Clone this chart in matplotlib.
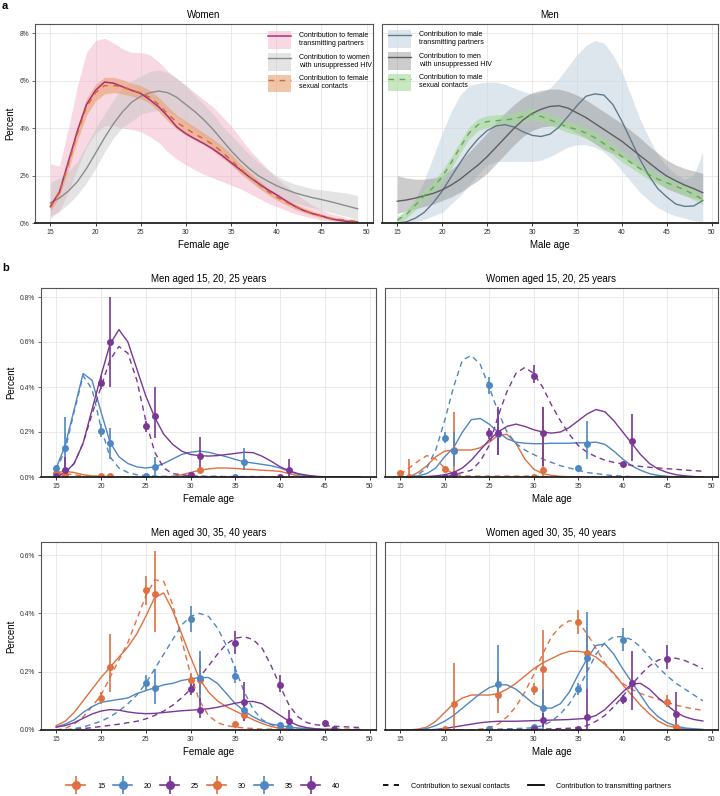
import numpy as np
import matplotlib
matplotlib.use("Agg")
import matplotlib.pyplot as plt
from matplotlib.lines import Line2D
from matplotlib.patches import Patch
from matplotlib.legend_handler import HandlerTuple
from matplotlib.ticker import FuncFormatter

plt.rcParams['font.family'] = ['Liberation Sans', 'DejaVu Sans']

ages = list(range(15, 50))

# ---------------- panel a : women ----------------
w_trans = [0.70, 1.30, 2.60, 3.90, 5.00, 5.60, 5.95, 5.90, 5.75, 5.60, 5.47, 5.20, 4.90, 4.50, 4.05, 3.77, 3.55, 3.35, 3.12, 2.85, 2.55, 2.25, 1.95, 1.68, 1.42, 1.20, 0.95, 0.72, 0.53, 0.40, 0.30, 0.18, 0.11, 0.06, 0.04]
w_trans_lo = [0.20, 0.50, 1.30, 2.30, 3.20, 3.80, 4.10, 4.10, 4.00, 3.95, 3.85, 3.65, 3.40, 3.00, 2.70, 2.45, 2.25, 2.05, 1.90, 1.75, 1.60, 1.45, 1.25, 1.05, 0.85, 0.70, 0.55, 0.40, 0.30, 0.20, 0.12, 0.08, 0.05, 0.03, 0.02]
w_trans_hi = [2.50, 2.40, 4.00, 5.80, 7.20, 7.70, 7.80, 7.60, 7.35, 7.20, 7.20, 7.10, 6.80, 6.40, 6.10, 5.80, 5.50, 5.20, 4.90, 4.50, 4.10, 3.60, 3.10, 2.70, 2.30, 1.90, 1.60, 1.30, 1.00, 0.75, 0.55, 0.40, 0.30, 0.20, 0.15]
w_unsup = [0.85, 1.05, 1.35, 1.75, 2.30, 2.95, 3.60, 4.20, 4.70, 5.10, 5.35, 5.50, 5.57, 5.50, 5.30, 5.00, 4.70, 4.35, 3.95, 3.50, 3.05, 2.65, 2.30, 2.00, 1.78, 1.58, 1.42, 1.28, 1.17, 1.07, 0.99, 0.90, 0.80, 0.70, 0.60]
w_unsup_lo = [0.30, 0.50, 0.80, 1.20, 1.70, 2.30, 3.00, 3.60, 4.05, 4.30, 4.60, 4.70, 4.75, 4.70, 4.50, 4.20, 3.90, 3.60, 3.20, 2.80, 2.45, 2.10, 1.80, 1.50, 1.30, 1.10, 0.95, 0.85, 0.75, 0.65, 0.55, 0.45, 0.35, 0.25, 0.15]
w_unsup_hi = [1.70, 1.90, 2.20, 2.60, 3.30, 4.00, 4.60, 5.20, 5.70, 6.00, 6.20, 6.40, 6.45, 6.35, 6.10, 5.80, 5.40, 5.00, 4.60, 4.10, 3.70, 3.30, 2.90, 2.55, 2.25, 2.00, 1.80, 1.65, 1.55, 1.45, 1.40, 1.35, 1.30, 1.25, 1.15]
w_sex = [0.65, 1.30, 2.50, 3.80, 4.90, 5.50, 5.80, 5.80, 5.75, 5.60, 5.50, 5.30, 5.00, 4.60, 4.25, 4.00, 3.75, 3.55, 3.30, 3.00, 2.65, 2.30, 1.95, 1.65, 1.35, 1.10, 0.90, 0.70, 0.55, 0.40, 0.30, 0.20, 0.15, 0.10, 0.07]
w_sex_lo = [0.50, 1.10, 2.25, 3.50, 4.55, 5.15, 5.45, 5.50, 5.45, 5.35, 5.25, 5.05, 4.70, 4.30, 3.95, 3.70, 3.50, 3.30, 3.05, 2.75, 2.45, 2.10, 1.80, 1.50, 1.22, 0.98, 0.78, 0.60, 0.45, 0.32, 0.22, 0.14, 0.09, 0.06, 0.04]
w_sex_hi = [0.85, 1.50, 2.75, 4.10, 5.25, 5.85, 6.15, 6.15, 6.05, 5.90, 5.80, 5.60, 5.30, 4.90, 4.55, 4.30, 4.05, 3.80, 3.55, 3.25, 2.90, 2.50, 2.15, 1.82, 1.50, 1.25, 1.02, 0.82, 0.65, 0.50, 0.38, 0.27, 0.20, 0.14, 0.10]

# ---------------- panel a : men ----------------
m_trans = [0.00, 0.05, 0.20, 0.45, 0.85, 1.35, 1.95, 2.55, 3.10, 3.55, 3.90, 4.10, 4.15, 4.05, 3.85, 3.70, 3.65, 3.75, 4.05, 4.50, 4.95, 5.35, 5.45, 5.40, 5.00, 4.30, 3.50, 2.70, 2.00, 1.45, 1.10, 0.80, 0.70, 0.72, 0.95]
m_trans_lo = [0.00, 0.00, 0.05, 0.15, 0.30, 0.45, 0.80, 1.15, 1.60, 2.05, 2.45, 2.60, 2.60, 2.60, 2.60, 2.60, 2.65, 2.80, 3.00, 3.20, 3.30, 3.30, 3.20, 3.00, 2.65, 2.20, 1.75, 1.30, 0.95, 0.65, 0.45, 0.30, 0.20, 0.10, 0.05]
m_trans_hi = [0.30, 0.50, 1.00, 1.80, 2.80, 3.80, 4.70, 5.40, 5.80, 5.90, 5.95, 5.95, 5.85, 5.70, 5.55, 5.45, 5.50, 5.70, 6.10, 6.60, 7.10, 7.50, 7.70, 7.60, 7.10, 6.40, 5.40, 4.40, 3.60, 2.90, 2.40, 2.05, 1.85, 2.00, 3.00]
m_unsup = [0.92, 0.97, 1.05, 1.15, 1.25, 1.40, 1.60, 1.85, 2.15, 2.45, 2.80, 3.20, 3.60, 4.00, 4.35, 4.62, 4.80, 4.92, 4.95, 4.85, 4.65, 4.45, 4.20, 3.95, 3.70, 3.45, 3.15, 2.85, 2.55, 2.25, 1.98, 1.78, 1.60, 1.45, 1.28]
m_unsup_lo = [0.40, 0.50, 0.60, 0.70, 0.80, 0.95, 1.10, 1.30, 1.55, 1.80, 2.10, 2.50, 2.90, 3.30, 3.65, 3.90, 4.05, 4.10, 4.10, 4.00, 3.80, 3.60, 3.35, 3.10, 2.95, 2.80, 2.55, 2.30, 2.00, 1.70, 1.45, 1.30, 1.15, 1.05, 0.95]
m_unsup_hi = [2.00, 1.90, 1.85, 1.85, 1.90, 2.00, 2.25, 2.60, 3.00, 3.40, 3.80, 4.25, 4.65, 5.00, 5.30, 5.50, 5.60, 5.65, 5.65, 5.55, 5.40, 5.20, 4.95, 4.70, 4.45, 4.20, 3.90, 3.60, 3.25, 2.95, 2.65, 2.45, 2.30, 2.20, 2.10]
m_sex = [0.12, 0.35, 0.75, 1.15, 1.50, 1.95, 2.55, 3.20, 3.80, 4.15, 4.28, 4.32, 4.35, 4.40, 4.50, 4.58, 4.50, 4.35, 4.20, 4.05, 3.95, 3.80, 3.60, 3.35, 3.10, 2.80, 2.55, 2.30, 2.05, 1.85, 1.70, 1.55, 1.40, 1.20, 1.00]
m_sex_lo = [0.02, 0.20, 0.55, 0.92, 1.25, 1.70, 2.30, 2.95, 3.55, 3.90, 4.03, 4.08, 4.12, 4.17, 4.27, 4.34, 4.27, 4.12, 3.97, 3.82, 3.72, 3.57, 3.37, 3.12, 2.88, 2.58, 2.33, 2.08, 1.84, 1.64, 1.49, 1.34, 1.18, 0.98, 0.78]
m_sex_hi = [0.25, 0.52, 0.95, 1.38, 1.75, 2.20, 2.80, 3.45, 4.05, 4.40, 4.53, 4.57, 4.60, 4.65, 4.75, 4.83, 4.75, 4.60, 4.45, 4.30, 4.20, 4.05, 3.85, 3.60, 3.35, 3.05, 2.80, 2.55, 2.28, 2.08, 1.93, 1.78, 1.63, 1.43, 1.23]

# ---------------- panel b : men aged 15, 20, 25 (female age) ----------------
mA15_solid = [0.020, 0.025, 0.020, 0.010, 0.005, 0.003, 0.002, 0.001, 0.001, 0.001, 0.001, 0.001, 0.001, 0.002, 0.010, 0.020, 0.030, 0.036, 0.040, 0.040, 0.038, 0.035, 0.033, 0.030, 0.028, 0.025, 0.015, 0.005, 0.001, 0, 0, 0, 0, 0, 0]
mA15_dash = [0.020, 0.015, 0.010, 0.005, 0.003, 0.002, 0.001, 0, 0, 0, 0, 0, 0, 0, 0, 0, 0, 0, 0, 0, 0, 0, 0, 0, 0, 0, 0, 0, 0, 0, 0, 0, 0, 0, 0]
mA20_solid = [0.040, 0.140, 0.300, 0.460, 0.430, 0.290, 0.155, 0.090, 0.060, 0.045, 0.040, 0.045, 0.060, 0.080, 0.100, 0.110, 0.115, 0.110, 0.100, 0.090, 0.078, 0.067, 0.062, 0.056, 0.050, 0.040, 0.025, 0.012, 0.005, 0.002, 0, 0, 0, 0, 0]
mA20_dash = [0.030, 0.120, 0.290, 0.450, 0.390, 0.220, 0.090, 0.040, 0.020, 0.010, 0.006, 0.004, 0.003, 0.003, 0.003, 0.003, 0.003, 0.003, 0.003, 0.002, 0.002, 0.002, 0.002, 0.002, 0.001, 0.001, 0.001, 0, 0, 0, 0, 0, 0, 0, 0]
mA25_solid = [0.000, 0.020, 0.060, 0.150, 0.300, 0.450, 0.590, 0.655, 0.600, 0.480, 0.360, 0.265, 0.190, 0.145, 0.115, 0.100, 0.095, 0.093, 0.095, 0.100, 0.105, 0.110, 0.108, 0.092, 0.070, 0.045, 0.028, 0.015, 0.008, 0.003, 0.001, 0, 0, 0, 0]
mA25_dash = [0.000, 0.020, 0.060, 0.150, 0.280, 0.400, 0.520, 0.580, 0.550, 0.430, 0.250, 0.110, 0.040, 0.015, 0.010, 0.005, 0.003, 0.002, 0.002, 0.001, 0.001, 0.001, 0.001, 0.001, 0.001, 0.001, 0, 0, 0, 0, 0, 0, 0, 0, 0]
mA_pt_grp = [15, 15, 15, 15, 15, 15, 20, 20, 20, 20, 20, 20, 20, 20, 25, 25, 25, 25, 25, 25, 25, 25, 25, 25]
mA_pt_age = [15, 16, 20, 21, 30, 31, 15, 16, 20, 21, 25, 26, 35, 36, 15, 16, 20, 21, 25, 26, 30, 31, 40, 41]
mA_pt_val = [0.02, 0.01, 0.003, 0.003, 0.01, 0.03, 0.04, 0.13, 0.205, 0.15, 0.005, 0.045, 0.002, 0.065, 0.005, 0.03, 0.42, 0.60, 0.225, 0.27, 0.01, 0.095, 0.002, 0.03]
mA_pt_lo = [0.015, 0.0, 0.0, 0.0, 0.005, 0.02, 0.03, 0.02, 0.18, 0.08, 0.0, 0.0, 0.0, 0.03, 0.0, 0.0, 0.39, 0.40, 0.20, 0.175, 0.0, 0.02, 0.0, 0.0]
mA_pt_hi = [0.025, 0.03, 0.006, 0.006, 0.015, 0.045, 0.05, 0.265, 0.235, 0.22, 0.01, 0.09, 0.005, 0.13, 0.01, 0.09, 0.45, 0.80, 0.25, 0.40, 0.02, 0.18, 0.005, 0.08]

# ---------------- panel b : women aged 15, 20, 25 (male age) ----------------
wA15_solid = [0.000, 0.000, 0.020, 0.050, 0.090, 0.115, 0.120, 0.120, 0.120, 0.130, 0.155, 0.185, 0.190, 0.150, 0.080, 0.035, 0.015, 0.007, 0.003, 0.001, 0, 0, 0, 0, 0, 0, 0, 0, 0, 0, 0, 0, 0, 0, 0]
wA15_dash = [0.010, 0.040, 0.070, 0.095, 0.080, 0.040, 0.012, 0.006, 0.004, 0.004, 0.004, 0.004, 0.004, 0.004, 0.004, 0.004, 0.002, 0.001, 0.001, 0.001, 0, 0, 0, 0, 0, 0, 0, 0, 0, 0, 0, 0, 0, 0, 0]
wA20_solid = [0.000, 0.000, 0.005, 0.015, 0.040, 0.090, 0.130, 0.200, 0.255, 0.260, 0.235, 0.200, 0.170, 0.155, 0.150, 0.148, 0.148, 0.150, 0.150, 0.150, 0.152, 0.152, 0.155, 0.145, 0.115, 0.080, 0.050, 0.030, 0.015, 0.007, 0.003, 0.001, 0, 0, 0]
wA20_dash = [0.000, 0.000, 0.010, 0.040, 0.120, 0.250, 0.400, 0.520, 0.540, 0.500, 0.400, 0.290, 0.200, 0.150, 0.120, 0.100, 0.080, 0.065, 0.050, 0.040, 0.030, 0.020, 0.015, 0.010, 0.006, 0.004, 0.002, 0.001, 0, 0, 0, 0, 0, 0, 0]
wA25_solid = [0.000, 0.000, 0.000, 0.002, 0.005, 0.010, 0.020, 0.040, 0.075, 0.120, 0.165, 0.200, 0.225, 0.235, 0.225, 0.210, 0.200, 0.195, 0.200, 0.220, 0.250, 0.280, 0.300, 0.290, 0.250, 0.200, 0.150, 0.100, 0.060, 0.035, 0.020, 0.010, 0.005, 0.002, 0.000]
wA25_dash = [0.000, 0.000, 0.000, 0.000, 0.000, 0.003, 0.010, 0.020, 0.030, 0.070, 0.140, 0.270, 0.380, 0.460, 0.487, 0.460, 0.400, 0.320, 0.250, 0.190, 0.140, 0.110, 0.090, 0.075, 0.065, 0.058, 0.052, 0.047, 0.043, 0.040, 0.037, 0.034, 0.031, 0.028, 0.026]
wA_pt_grp = [15, 15, 15, 15, 15, 15, 20, 20, 20, 20, 20, 20, 25, 25, 25, 25, 25, 25, 25, 25]
wA_pt_age = [15, 16, 20, 21, 30, 31, 20, 21, 25, 26, 35, 36, 20, 21, 25, 26, 30, 31, 40, 41]
wA_pt_val = [0.02, 0.001, 0.035, 0.12, 0.002, 0.03, 0.175, 0.115, 0.41, 0.19, 0.04, 0.145, 0.0, 0.015, 0.195, 0.195, 0.45, 0.195, 0.06, 0.16]
wA_pt_lo = [0.015, 0.0, 0.03, 0.0, 0.0, 0.0, 0.15, 0.05, 0.37, 0.10, 0.035, 0.08, 0.0, 0.005, 0.17, 0.10, 0.42, 0.05, 0.055, 0.07]
wA_pt_hi = [0.025, 0.08, 0.04, 0.29, 0.004, 0.31, 0.20, 0.20, 0.445, 0.30, 0.045, 0.25, 0.003, 0.025, 0.22, 0.31, 0.50, 0.31, 0.065, 0.28]

# ---------------- panel b : men aged 30, 35, 40 (female age) ----------------
mB30_solid = [0.015, 0.030, 0.060, 0.100, 0.140, 0.180, 0.215, 0.250, 0.285, 0.330, 0.390, 0.455, 0.470, 0.410, 0.330, 0.250, 0.175, 0.130, 0.100, 0.080, 0.065, 0.050, 0.035, 0.022, 0.012, 0.006, 0.003, 0.001, 0.001, 0.001, 0.001, 0.001, 0.001, 0.001, 0.001]
mB30_dash = [0.000, 0.005, 0.020, 0.045, 0.080, 0.120, 0.180, 0.240, 0.300, 0.380, 0.460, 0.515, 0.510, 0.430, 0.310, 0.190, 0.100, 0.050, 0.025, 0.015, 0.010, 0.007, 0.005, 0.003, 0.003, 0.003, 0.003, 0.003, 0.003, 0.003, 0.003, 0.003, 0.003, 0.003, 0.003]
mB35_solid = [0.010, 0.020, 0.035, 0.060, 0.080, 0.095, 0.100, 0.105, 0.110, 0.125, 0.135, 0.145, 0.155, 0.160, 0.170, 0.175, 0.180, 0.180, 0.160, 0.125, 0.090, 0.065, 0.045, 0.030, 0.020, 0.015, 0.010, 0.007, 0.005, 0.003, 0.002, 0.002, 0.001, 0.001, 0.001]
mB35_dash = [0.000, 0.000, 0.005, 0.010, 0.020, 0.030, 0.045, 0.065, 0.090, 0.120, 0.160, 0.210, 0.260, 0.310, 0.360, 0.390, 0.400, 0.390, 0.350, 0.290, 0.210, 0.130, 0.070, 0.035, 0.018, 0.010, 0.006, 0.003, 0.002, 0.001, 0.001, 0.001, 0, 0, 0]
mB40_solid = [0.010, 0.015, 0.025, 0.040, 0.055, 0.065, 0.070, 0.068, 0.062, 0.058, 0.056, 0.057, 0.060, 0.063, 0.066, 0.068, 0.070, 0.073, 0.078, 0.085, 0.092, 0.097, 0.098, 0.090, 0.070, 0.050, 0.030, 0.015, 0.008, 0.004, 0.002, 0.001, 0.001, 0.001, 0.001]
mB40_dash = [0.000, 0.000, 0.002, 0.005, 0.008, 0.012, 0.016, 0.020, 0.025, 0.030, 0.038, 0.050, 0.065, 0.085, 0.110, 0.140, 0.180, 0.220, 0.260, 0.295, 0.315, 0.320, 0.310, 0.280, 0.220, 0.150, 0.085, 0.045, 0.025, 0.018, 0.015, 0.013, 0.011, 0.010, 0.008]
mB_pt_grp = [30, 30, 30, 30, 30, 30, 30, 30, 35, 35, 35, 35, 35, 35, 35, 35, 40, 40, 40, 40, 40, 40, 40, 40]
mB_pt_age = [20, 21, 25, 26, 30, 31, 35, 36, 25, 26, 30, 31, 35, 36, 40, 41, 30, 31, 35, 36, 40, 41, 45, 46]
mB_pt_val = [0.11, 0.215, 0.48, 0.465, 0.17, 0.17, 0.02, 0.05, 0.16, 0.145, 0.38, 0.18, 0.185, 0.07, 0.017, 0.012, 0.14, 0.07, 0.30, 0.095, 0.155, 0.03, 0.025, 0.003]
mB_pt_lo = [0.09, 0.13, 0.43, 0.335, 0.15, 0.12, 0.015, 0.03, 0.135, 0.09, 0.335, 0.10, 0.16, 0.05, 0.012, 0.0, 0.12, 0.04, 0.26, 0.03, 0.13, 0.0, 0.012, 0.0]
mB_pt_hi = [0.13, 0.33, 0.53, 0.615, 0.195, 0.25, 0.025, 0.07, 0.19, 0.21, 0.425, 0.27, 0.22, 0.09, 0.022, 0.03, 0.16, 0.11, 0.34, 0.165, 0.19, 0.07, 0.035, 0.006]

# ---------------- panel b : women aged 30, 35, 40 (male age) ----------------
wB30_solid = [0.000, 0.000, 0.003, 0.010, 0.030, 0.060, 0.090, 0.110, 0.120, 0.120, 0.120, 0.125, 0.140, 0.160, 0.185, 0.210, 0.230, 0.245, 0.260, 0.270, 0.270, 0.265, 0.250, 0.225, 0.195, 0.155, 0.120, 0.085, 0.055, 0.030, 0.015, 0.008, 0.004, 0.002, 0.001]
wB30_dash = [0, 0, 0, 0, 0, 0, 0, 0, 0, 0.003, 0.008, 0.020, 0.045, 0.080, 0.130, 0.190, 0.260, 0.320, 0.355, 0.375, 0.370, 0.330, 0.280, 0.230, 0.190, 0.160, 0.140, 0.125, 0.115, 0.105, 0.095, 0.085, 0.078, 0.072, 0.068]
wB35_solid = [0.000, 0.000, 0.000, 0.005, 0.015, 0.030, 0.050, 0.075, 0.100, 0.125, 0.145, 0.155, 0.155, 0.140, 0.115, 0.090, 0.075, 0.075, 0.090, 0.130, 0.190, 0.245, 0.290, 0.295, 0.260, 0.210, 0.165, 0.120, 0.075, 0.045, 0.025, 0.013, 0.007, 0.004, 0.002]
wB35_dash = [0, 0, 0, 0, 0, 0, 0, 0, 0, 0, 0.002, 0.003, 0.004, 0.005, 0.006, 0.008, 0.015, 0.030, 0.055, 0.090, 0.140, 0.200, 0.260, 0.300, 0.320, 0.320, 0.310, 0.285, 0.250, 0.215, 0.185, 0.160, 0.140, 0.120, 0.100]
wB40_solid = [0, 0, 0, 0, 0.002, 0.005, 0.010, 0.015, 0.020, 0.025, 0.028, 0.030, 0.030, 0.030, 0.031, 0.032, 0.033, 0.034, 0.035, 0.036, 0.038, 0.040, 0.050, 0.070, 0.100, 0.130, 0.158, 0.160, 0.140, 0.110, 0.085, 0.060, 0.045, 0.036, 0.031]
wB40_dash = [0, 0, 0, 0, 0, 0, 0, 0, 0, 0, 0, 0, 0, 0, 0.001, 0.002, 0.003, 0.004, 0.005, 0.006, 0.008, 0.015, 0.030, 0.050, 0.080, 0.115, 0.155, 0.190, 0.220, 0.240, 0.248, 0.246, 0.238, 0.225, 0.210]
wB_pt_grp = [30, 30, 30, 30, 30, 30, 30, 30, 30, 30, 35, 35, 35, 35, 35, 35, 35, 40, 40, 40, 40, 40, 40, 40, 40]
wB_pt_age = [20, 21, 25, 26, 30, 31, 35, 36, 45, 46, 25, 26, 30, 31, 35, 36, 40, 30, 31, 35, 36, 40, 41, 45, 46]
wB_pt_val = [0.002, 0.088, 0.005, 0.12, 0.14, 0.21, 0.37, 0.265, 0.097, 0.01, 0.005, 0.157, 0.01, 0.074, 0.14, 0.246, 0.31, 0.002, 0.034, 0.005, 0.045, 0.105, 0.16, 0.245, 0.055]
wB_pt_lo = [0.0, 0.0, 0.0, 0.057, 0.12, 0.08, 0.33, 0.20, 0.08, 0.005, 0.0, 0.10, 0.005, 0.0, 0.12, 0.14, 0.27, 0.0, 0.01, 0.0, 0.0, 0.09, 0.07, 0.21, 0.0]
wB_pt_hi = [0.004, 0.23, 0.01, 0.20, 0.16, 0.343, 0.41, 0.33, 0.12, 0.015, 0.01, 0.29, 0.015, 0.14, 0.16, 0.405, 0.35, 0.004, 0.06, 0.01, 0.14, 0.12, 0.27, 0.29, 0.13]

group_labels = ['15', '20', '25', '30', '35', '40']
group_colors = ['#E0703F', '#4E87C3', '#7A3796', '#E0703F', '#4E87C3', '#7A3796']

W, H = 720, 796
fig = plt.figure(figsize=(W / 100, H / 100), dpi=100)


def rect(l, t, r, b):
    return [l / W, 1 - b / H, (r - l) / W, (b - t) / H]


TICK_FS = 4.9
LAB_FS = 7.0


def style_axes(ax, ymax, yticks, fmt, show_y=True, xlabel=None):
    ax.set_xlim(13.3, 50.7)
    ax.set_ylim(0, ymax)
    ax.set_xticks([15, 20, 25, 30, 35, 40, 45, 50])
    ax.set_yticks(yticks)
    ax.yaxis.set_major_formatter(FuncFormatter(fmt))
    ax.grid(True, color='#E6E6E6', lw=0.6)
    ax.set_axisbelow(True)
    for s in ['left', 'top', 'right']:
        ax.spines[s].set_color('#555555')
        ax.spines[s].set_linewidth(0.8)
    ax.spines['bottom'].set_color('#222222')
    ax.spines['bottom'].set_linewidth(1.3)
    ax.tick_params(axis='x', labelsize=TICK_FS, length=2.5, width=0.7, color='#333333', pad=2, labelcolor='#333333')
    ax.tick_params(axis='y', labelsize=TICK_FS, length=2, width=0.6, color='#555555', pad=2, labelcolor='#333333')
    if not show_y:
        ax.tick_params(axis='y', labelleft=False, length=0)
    else:
        ax.set_ylabel('Percent', fontsize=LAB_FS, labelpad=3)
    if xlabel:
        ax.set_xlabel(xlabel, fontsize=LAB_FS, labelpad=3)


pct0 = lambda v, p: f'{v:.0f}%'
pct1 = lambda v, p: f'{v:.1f}%'
overlay = {tuple: HandlerTuple(ndivide=1, pad=0)}

# ---------------- panel a ----------------
axW = fig.add_axes(rect(35, 24, 373, 223))
axM = fig.add_axes(rect(382, 24, 718, 223))

pink_c, pink_f = '#AE2C7E', '#F0B3C8'
gw_c, gw_f = '#8C8C8C', '#C4C4C4'
or_c, or_f = '#D5652B', '#E9A06E'
axW.fill_between(ages, w_trans_lo, w_trans_hi, color=pink_f, alpha=0.5, lw=0)
axW.fill_between(ages, w_unsup_lo, w_unsup_hi, color=gw_f, alpha=0.45, lw=0)
axW.fill_between(ages, w_sex_lo, w_sex_hi, color=or_f, alpha=0.6, lw=0)
axW.plot(ages, w_unsup, color=gw_c, lw=1.0)
axW.plot(ages, w_trans, color=pink_c, lw=1.1)
axW.plot(ages, w_sex, color=or_c, lw=1.0, ls=(0, (4, 4)))
style_axes(axW, 8.4, [0, 2, 4, 6, 8], pct0, True, 'Female age')
axW.set_title('Women', fontsize=LAB_FS, pad=4)

leg_kw = dict(handler_map=overlay, loc='upper left', frameon=False, fontsize=5.0,
              handlelength=3.3, handleheight=3.6, labelspacing=0.55, handletextpad=1.2,
              borderpad=0, borderaxespad=0)

hW = [(Patch(facecolor=pink_f, alpha=0.5, lw=0), Line2D([], [], color=pink_c, lw=1.1)),
      (Patch(facecolor=gw_f, alpha=0.45, lw=0), Line2D([], [], color=gw_c, lw=1.0)),
      (Patch(facecolor=or_f, alpha=0.6, lw=0), Line2D([], [], color=or_c, lw=1.0, ls=(0, (4, 4))))]
lW = ['Contribution to female\ntransmitting partners',
      'Contribution to women\nwith unsuppressed HIV',
      'Contribution to female\nsexual contacts']
axW.legend(hW, lW, bbox_to_anchor=((268 - 35) / 338, (223 - 31) / 199), **leg_kw)

sl_c, sl_f = '#617A8C', '#C9D6E2'
gm_c, gm_f = '#5E5E5E', '#8E8E8E'
gr_c, gr_f = '#62AA55', '#A6D897'
axM.fill_between(ages, m_trans_lo, m_trans_hi, color=sl_f, alpha=0.6, lw=0)
axM.fill_between(ages, m_unsup_lo, m_unsup_hi, color=gm_f, alpha=0.45, lw=0)
axM.fill_between(ages, m_sex_lo, m_sex_hi, color=gr_f, alpha=0.6, lw=0)
axM.plot(ages, m_trans, color=sl_c, lw=1.0)
axM.plot(ages, m_unsup, color=gm_c, lw=1.0)
axM.plot(ages, m_sex, color=gr_c, lw=1.0, ls=(0, (4, 4)))
style_axes(axM, 8.4, [0, 2, 4, 6, 8], pct0, False, 'Male age')
axM.set_title('Men', fontsize=LAB_FS, pad=4)

hM = [(Patch(facecolor=sl_f, alpha=0.6, lw=0), Line2D([], [], color=sl_c, lw=1.0)),
      (Patch(facecolor=gm_f, alpha=0.45, lw=0), Line2D([], [], color=gm_c, lw=1.0)),
      (Patch(facecolor=gr_f, alpha=0.6, lw=0), Line2D([], [], color=gr_c, lw=1.0, ls=(0, (4, 4))))]
lM = ['Contribution to male\ntransmitting partners',
      'Contribution to men\nwith unsuppressed HIV',
      'Contribution to male\nsexual contacts']
axM.legend(hM, lM, bbox_to_anchor=((388 - 382) / 336, (223 - 30) / 199), **leg_kw)

# ---------------- panel b ----------------


def draw_b(ax, groups, solids, dashes, pg, pa, pv, plo, phi):
    for g, s, d in zip(groups, solids, dashes):
        c = group_colors[group_labels.index(str(g))]
        ax.plot(ages, d, color=c, lw=1.0, ls=(0, (4, 3)))
        ax.plot(ages, s, color=c, lw=1.0)
    pg = np.array(pg); pa = np.array(pa); pv = np.array(pv)
    plo = np.array(plo); phi = np.array(phi)
    for g in groups:
        c = group_colors[group_labels.index(str(g))]
        m = pg == g
        yerr = [np.clip(pv[m] - plo[m], 0, None), np.clip(phi[m] - pv[m], 0, None)]
        ax.errorbar(pa[m], pv[m], yerr=yerr, fmt='o', color=c, ms=5.0, elinewidth=1.2,
                    capsize=0, mew=0)


ax1 = fig.add_axes(rect(41, 288, 376, 477))
ax2 = fig.add_axes(rect(385, 288, 718, 477))
ax3 = fig.add_axes(rect(41, 542, 376, 730))
ax4 = fig.add_axes(rect(385, 542, 718, 730))

draw_b(ax1, [15, 20, 25], [mA15_solid, mA20_solid, mA25_solid], [mA15_dash, mA20_dash, mA25_dash],
       mA_pt_grp, mA_pt_age, mA_pt_val, mA_pt_lo, mA_pt_hi)
draw_b(ax2, [15, 20, 25], [wA15_solid, wA20_solid, wA25_solid], [wA15_dash, wA20_dash, wA25_dash],
       wA_pt_grp, wA_pt_age, wA_pt_val, wA_pt_lo, wA_pt_hi)
draw_b(ax3, [30, 35, 40], [mB30_solid, mB35_solid, mB40_solid], [mB30_dash, mB35_dash, mB40_dash],
       mB_pt_grp, mB_pt_age, mB_pt_val, mB_pt_lo, mB_pt_hi)
draw_b(ax4, [30, 35, 40], [wB30_solid, wB35_solid, wB40_solid], [wB30_dash, wB35_dash, wB40_dash],
       wB_pt_grp, wB_pt_age, wB_pt_val, wB_pt_lo, wB_pt_hi)

style_axes(ax1, 0.84, [0, 0.2, 0.4, 0.6, 0.8], pct1, True, 'Female age')
style_axes(ax2, 0.84, [0, 0.2, 0.4, 0.6, 0.8], pct1, False, 'Male age')
style_axes(ax3, 0.645, [0, 0.2, 0.4, 0.6], pct1, True, 'Female age')
style_axes(ax4, 0.645, [0, 0.2, 0.4, 0.6], pct1, False, 'Male age')
ax1.set_title('Men aged 15, 20, 25 years', fontsize=LAB_FS, pad=4)
ax2.set_title('Women aged 15, 20, 25 years', fontsize=LAB_FS, pad=4)
ax3.set_title('Men aged 30, 35, 40 years', fontsize=LAB_FS, pad=4)
ax4.set_title('Women aged 30, 35, 40 years', fontsize=LAB_FS, pad=4)

fig.text(2 / W, 1 - 6 / H, 'a', fontsize=8, fontweight='bold', va='center', ha='left')
fig.text(2 / W, 1 - 268 / H, 'b', fontsize=8, fontweight='bold', va='center', ha='left')

# ---------------- bottom legends ----------------
hA = [(Line2D([], [], color=c, lw=1.2, marker='o', ms=6.5, mew=0),
       Line2D([], [], color=c, lw=0, marker='|', ms=13, mew=1.2)) for c in group_colors]
fig.legend(hA, group_labels, handler_map=overlay,
           loc='center', bbox_to_anchor=(203 / W, 1 - 786 / H), ncol=6, frameon=False,
           fontsize=5.2, handlelength=2.7, handletextpad=1.6, columnspacing=1.1,
           borderpad=0, borderaxespad=0)
hL = [Line2D([], [], color='black', lw=1.3, ls=(0, (3, 3))), Line2D([], [], color='black', lw=1.3)]
fig.legend(hL, ['Contribution to sexual contacts', 'Contribution to transmitting partners'],
           loc='center', bbox_to_anchor=(527 / W, 1 - 786 / H), ncol=2, frameon=False,
           fontsize=5.2, handlelength=2.2, handletextpad=1.6, columnspacing=2.6,
           borderpad=0, borderaxespad=0)

fig.savefig('out.png', dpi=100)
